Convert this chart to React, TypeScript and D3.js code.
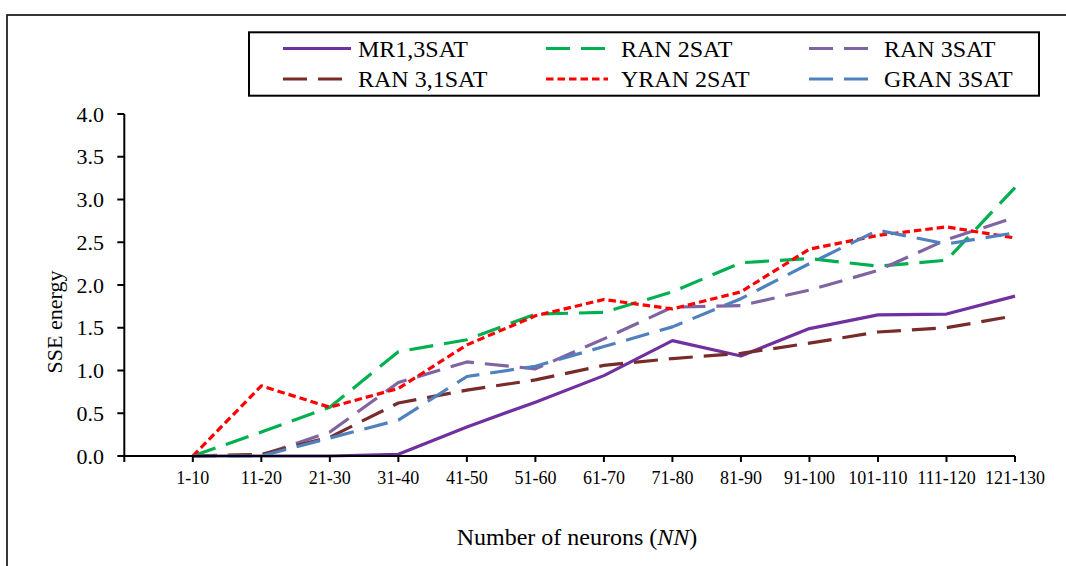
import React from "react";
import * as d3 from "d3";

const categories = ["1-10","11-20","21-30","31-40","41-50","51-60","61-70","71-80","81-90","91-100","101-110","111-120","121-130"];
const yTicks = [0, 0.5, 1, 1.5, 2, 2.5, 3, 3.5, 4];

const mr13sat = [0, 0, 0, 0.02, 0.34, 0.63, 0.94, 1.35, 1.17, 1.49, 1.65, 1.66, 1.87];
const ran2sat = [0, 0.28, 0.57, 1.22, 1.36, 1.66, 1.68, 1.92, 2.26, 2.31, 2.22, 2.29, 3.14];
const ran3sat = [0, 0.01, 0.28, 0.86, 1.1, 1.02, 1.37, 1.74, 1.76, 1.94, 2.17, 2.53, 2.79];
const ran31sat = [0, 0.02, 0.22, 0.62, 0.77, 0.89, 1.06, 1.14, 1.2, 1.32, 1.45, 1.5, 1.64];
const yran2sat = [0, 0.82, 0.57, 0.79, 1.3, 1.64, 1.83, 1.72, 1.92, 2.42, 2.58, 2.68, 2.55];
const gran3sat = [0, 0, 0.21, 0.42, 0.93, 1.05, 1.28, 1.51, 1.84, 2.25, 2.64, 2.48, 2.61];

const seriesNames = ["MR1,3SAT", "RAN 2SAT", "RAN 3SAT", "RAN 3,1SAT", "YRAN 2SAT", "GRAN 3SAT"];
const seriesValues = [mr13sat, ran2sat, ran3sat, ran31sat, yran2sat, gran3sat];
const seriesColors = ["#7030A0", "#00B050", "#8064A2", "#772C2A", "#FF0000", "#4F81BD"];
const seriesDash = ["none", "24 11", "24 11", "24 11", "7.5 4", "24 11"];

const FONT = "'Liberation Serif', 'Times New Roman', serif";

export default function App() {
  const W = 1066, H = 566;
  const x = d3.scalePoint<string>().domain(["", ...categories]).range([124.3, 1015]).padding(0);
  const y = d3.scaleLinear().domain([0, 4]).range([456, 114]);
  const line = d3.line<number>()
    .x((_, i) => x(categories[i]) as number)
    .y((d) => y(d));

  const legendCols = [283, 546, 809];
  const legendRows = [48.5, 79];

  return (
    <svg width={W} height={H} style={{ position: "absolute", left: 0, top: 0, background: "#fff" }}>
      <rect x={0} y={0} width={W} height={H} fill="#fff" />
      {/* outer border */}
      <rect x={7} y={15} width={W + 10} height={H + 10} fill="none" stroke="#222" strokeWidth={1.8} />

      {/* legend box */}
      <rect x={249} y={32.3} width={790} height={63.4} fill="#fff" stroke="#000" strokeWidth={2} />
      {seriesNames.map((name, i) => {
        const col = i % 3, row = Math.floor(i / 3);
        const lx = legendCols[col];
        const ly = legendRows[row];
        return (
          <g key={name}>
            <line x1={lx} x2={lx + (i === 0 ? 68 : 62)} y1={ly} y2={ly}
              stroke={seriesColors[i]} strokeWidth={3.2}
              strokeDasharray={seriesDash[i] === "none" ? undefined : seriesDash[i]} />
            <text x={lx + 75} y={ly + 8} fontFamily={FONT} fontSize={24} fill="#000">{name}</text>
          </g>
        );
      })}

      {/* y axis */}
      <line x1={124.3} x2={124.3} y1={y(4)} y2={y(0)} stroke="#000" strokeWidth={2} />
      {yTicks.map((t) => (
        <g key={t}>
          <line x1={117.3} x2={124.3} y1={y(t)} y2={y(t)} stroke="#000" strokeWidth={2} />
          <text x={104} y={y(t) + 7.5} textAnchor="end" fontFamily={FONT} fontSize={22} fill="#000">
            {t.toFixed(1)}
          </text>
        </g>
      ))}
      <text transform={`translate(61.5,322) rotate(-90)`} textAnchor="middle" fontFamily={FONT} fontSize={22} fill="#000">
        SSE energy
      </text>

      {/* series */}
      {seriesValues.map((vals, i) => (
        <path key={seriesNames[i]} d={line(vals) || ""} fill="none" stroke={seriesColors[i]}
          strokeWidth={3.2} strokeLinejoin="round"
          strokeDasharray={seriesDash[i] === "none" ? undefined : seriesDash[i]} />
      ))}

      {/* x axis */}
      <line x1={124.3} x2={1015} y1={y(0)} y2={y(0)} stroke="#000" strokeWidth={2} />
      {["", ...categories].map((c) => (
        <line key={"t" + c} x1={x(c)} x2={x(c)} y1={y(0)} y2={y(0) + 6} stroke="#000" strokeWidth={2} />
      ))}
      {categories.map((c) => (
        <text key={c} x={x(c)} y={484} textAnchor="middle" fontFamily={FONT} fontSize={18} fill="#000">{c}</text>
      ))}
      <text x={577} y={545} textAnchor="middle" fontFamily={FONT} fontSize={24} fill="#000">
        Number of neurons (<tspan fontStyle="italic">NN</tspan>)
      </text>
    </svg>
  );
}
